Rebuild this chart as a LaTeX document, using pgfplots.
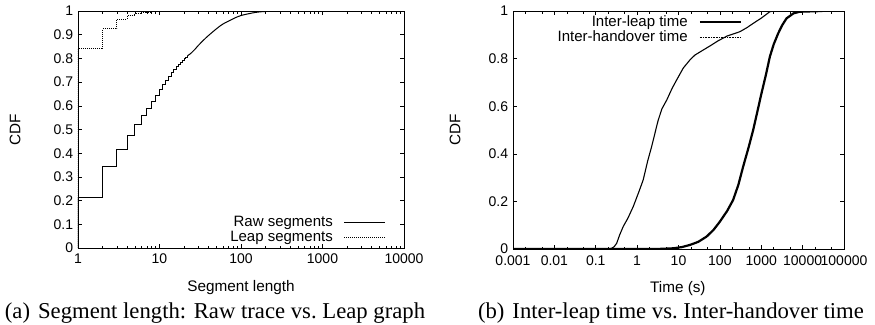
\documentclass[border=0pt]{standalone}
\usepackage{fontspec}
\setmainfont{Liberation Serif}
\setsansfont{Liberation Sans}
\usepackage{pgfplots}
\pgfplotsset{compat=1.18}
\pgfplotsset{
  every axis/.append style={
    font=\sffamily\fontsize{14}{16}\selectfont,
    axis line style={line width=0.9pt},
    major tick length=4pt, minor tick length=2.5pt,
    legend cell align=right, legend plot pos=right,
    legend style={draw=none, fill=none, inner sep=0pt, row sep=-1pt, column sep=9pt,
      font=\sffamily\fontsize{15}{17}\selectfont},
    yticklabel style={inner sep=1pt, xshift=-3.7pt},
  },
  every axis label/.append style={font=\sffamily\fontsize{15.3}{17}\selectfont},
  every tick/.append style={line width=0.6pt, black},
  /pgf/number format/assume math mode=true,
}
\begin{document}
\begin{tikzpicture}
\useasboundingbox (0,0) rectangle (875pt,-324pt);
\begin{axis}[
  scale only axis, xmode=log, ymin=0, ymax=1,
  at={(78pt,-248pt)}, anchor=south west,
  width=326pt, height=237pt,
  xmin=1, xmax=10000,
  xtick={1,10,100,1000,10000},
  xticklabels={1,10,100,1000,10000},
  xticklabel style={inner sep=1pt, yshift=-4.7pt},
  minor xtick={2,3,4,5,6,7,8,9,20,30,40,50,60,70,80,90,200,300,400,500,600,700,800,900,2000,3000,4000,5000,6000,7000,8000,9000},
  ytick={0,0.1,0.2,0.3,0.4,0.5,0.6,0.7,0.8,0.9,1},
  xlabel={Segment length}, ylabel={CDF},
  every axis y label/.style={at={(axis description cs:-0.193,0.5)}, rotate=90, anchor=center},
  every axis x label/.style={at={(axis description cs:0.5,-0.168)}, anchor=center},
  legend style={at={(axis description cs:0.945,0.012)}, anchor=south east},
  legend image code/.code={\draw[#1] (0pt,0pt) -- (41pt,0pt);},
]
\addplot[const plot, black, line width=1pt] coordinates {
(1,0) (1,0.212) (2,0.342) (3,0.416) (4,0.475) (5,0.519) (6,0.557) (7,0.589)
(8,0.617) (9,0.643) (10,0.667) (11,0.688) (12,0.707) (13,0.724) (14,0.739)
(15,0.752) (16,0.764) (17,0.774) (18,0.783) (19,0.791) (20,0.799) (21,0.805) (22,0.811)};
\addlegendentry{Raw segments}
\addplot[const plot, black, line width=1pt, densely dotted] coordinates {
(1,0) (1,0.84) (2,0.925) (3,0.965) (4,0.98) (5,0.988) (6,0.992) (7,0.994)
(8,0.996) (10,0.998) (15,0.999) (20,1) (10000,1)};
\addlegendentry{Leap segments}
\addplot[black, line width=1pt, smooth, forget plot] coordinates {
(22,0.811) (24,0.82) (27,0.837) (30,0.855) (38,0.89) (50,0.925) (60,0.945)
(80,0.967) (100,0.981) (150,0.994) (200,0.998) (300,1) (10000,1)};
\end{axis}

\begin{axis}[
  scale only axis, xmode=log, ymin=0, ymax=1,
  at={(513pt,-249pt)}, anchor=south west,
  width=331pt, height=238pt,
  xmin=0.001, xmax=100000,
  xtick={0.001,0.01,0.1,1,10,100,1000,10000,100000},
  xticklabels={0.001,0.01,0.1,1,10,100,1000,10000,100000},
  xticklabel style={inner sep=1pt, yshift=-5.7pt},
  minor xtick={0.002,0.005,0.02,0.05,0.2,0.5,2,5,20,50,200,500,2000,5000,20000,50000},
  ytick={0,0.2,0.4,0.6,0.8,1},
  xlabel={Time (s)}, ylabel={CDF},
  every axis y label/.style={at={(axis description cs:-0.175,0.5)}, rotate=90, anchor=center},
  every axis x label/.style={at={(axis description cs:0.498,-0.168)}, anchor=center},
  legend style={at={(axis description cs:0.692,0.99)}, anchor=north east},
  legend image code/.code={\draw[#1] (0pt,0pt) -- (41pt,0pt);},
]
\addplot[black, line width=2.2pt] coordinates {
(0.001,0) (3,0) (7.5,0.003) (12,0.008) (18.8,0.017) (30,0.03) (47.6,0.052)
(70,0.08) (100,0.115) (150,0.16) (209,0.206) (280,0.27) (365,0.346) (500,0.43)
(638,0.5) (800,0.575) (1000,0.65) (1300,0.733) (1614,0.808) (2000,0.86)
(2565,0.906) (3200,0.94) (4080,0.969) (6000,0.99) (8500,0.997) (30000,1)};
\addlegendentry{Inter-leap time}
\addplot[black, line width=1.1pt,
  legend image code/.code={\draw[black, line width=0.6pt, densely dotted] (0pt,0pt) -- (41pt,0pt);}] coordinates {
(0.001,0) (0.2,0) (0.242,0.003) (0.28,0.01) (0.32,0.024) (0.38,0.06) (0.46,0.094)
(0.6,0.13) (0.805,0.178) (1.1,0.24) (1.4,0.29) (1.8,0.37) (2.24,0.43) (2.95,0.514)
(3.24,0.542) (4,0.59) (5.2,0.626) (7,0.675) (9,0.71) (13,0.76) (18.8,0.794)
(25,0.815) (39.5,0.836) (60,0.855) (91,0.875) (150,0.895) (304,0.913) (450,0.93)
(638,0.948) (1000,0.97) (1614,0.997) (2000,1)};
\addlegendentry{Inter-handover time}
\end{axis}

\node[anchor=base, font=\fontsize{22.7}{25}\selectfont] at (215pt,-318.5pt)
  {(a)\hspace{0.35em}Segment length: Raw trace vs.\ Leap graph};
\node[anchor=base, font=\fontsize{22.7}{25}\selectfont] at (671pt,-318.5pt)
  {(b)\hspace{0.35em}Inter-leap time vs.\ Inter-handover time};
\end{tikzpicture}
\end{document}
